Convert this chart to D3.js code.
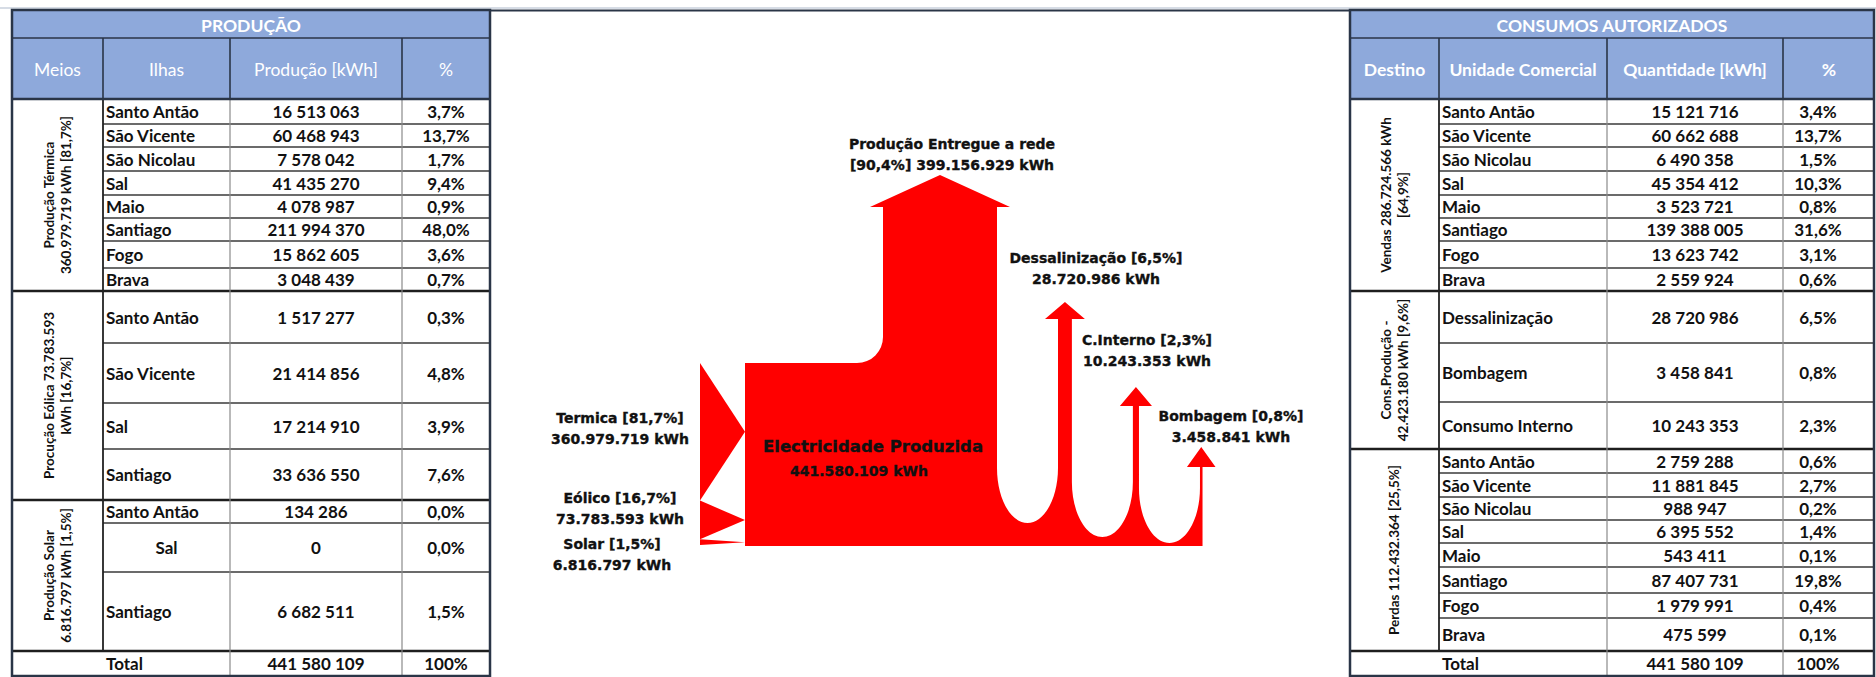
<!DOCTYPE html>
<html>
<head>
<meta charset="utf-8">
<script src="https://cdn.jsdelivr.net/npm/d3@7"></script>
<style>
  body { margin: 0; background: #fff; }
  svg { display: block; }
  .cell { font-family: Lato, "Open Sans", sans-serif; font-weight: 700; font-size: 17px; fill: #111; }
  .head { font-family: Lato, "Open Sans", sans-serif; font-size: 17.5px; fill: #fff; }
  .grp { font-family: Lato, "Open Sans", sans-serif; font-weight: 700; font-size: 13.5px; fill: #111; }
  .flow { font-family: "DejaVu Sans", Verdana, sans-serif; font-weight: 700; font-size: 14px; fill: #111;
          stroke: #111; stroke-width: 0.35px; }
</style>
</head>
<body>
<svg id="chart" width="1876" height="677"></svg>
<script>
// ---------- data ----------
var total = 441580109;

// produção
var termicaIlhas = ["Santo Antão", "São Vicente", "São Nicolau", "Sal", "Maio", "Santiago", "Fogo", "Brava"];
var termicaKWh = [16513063, 60468943, 7578042, 41435270, 4078987, 211994370, 15862605, 3048439];
var eolicaIlhas = ["Santo Antão", "São Vicente", "Sal", "Santiago"];
var eolicaKWh = [1517277, 21414856, 17214910, 33636550];
var solarIlhas = ["Santo Antão", "Sal", "Santiago"];
var solarKWh = [134286, 0, 6682511];
var meiosLabels = [
  ["Produção Térmica", "360.979.719 kWh [81,7%]"],
  ["Procução Eólica  73.783.593", "kWh [16,7%]"],
  ["Produção Solar", "6.816.797 kWh [1,5%]"]
];

// consumos autorizados
var vendasUC = ["Santo Antão", "São Vicente", "São Nicolau", "Sal", "Maio", "Santiago", "Fogo", "Brava"];
var vendasKWh = [15121716, 60662688, 6490358, 45354412, 3523721, 139388005, 13623742, 2559924];
var consProdUC = ["Dessalinização", "Bombagem", "Consumo Interno"];
var consProdKWh = [28720986, 3458841, 10243353];
var perdasUC = ["Santo Antão", "São Vicente", "São Nicolau", "Sal", "Maio", "Santiago", "Fogo", "Brava"];
var perdasKWh = [2759288, 11881845, 988947, 6395552, 543411, 87407731, 1979991, 475599];
var destinoLabels = [
  ["Vendas 286.724.566 kWh", "[64,9%]"],
  ["Cons.Produção -", "42.423.180 kWh [9,6%]"],
  ["Perdas 112.432.364 [25,5%]"]
];

// fluxo
var inputNames = ["Termica", "Eólico", "Solar"];
var inputKWh = [360979719, 73783593, 6816797];
var outputNames = ["Produção Entregue a rede", "Dessalinização", "C.Interno", "Bombagem"];
var outputKWh = [399156929, 28720986, 10243353, 3458841];

// ---------- formats ----------
var locSp = d3.formatLocale({decimal: ",", thousands: " ", grouping: [3], currency: ["", ""]});
var locDot = d3.formatLocale({decimal: ",", thousands: ".", grouping: [3], currency: ["", ""]});
var numSp = locSp.format(",d"), pct = locSp.format(".1%"), numDot = locDot.format(",d");

var svg = d3.select("#chart");
var headBlue = "#8EA9DB", dark = "#2a3547";

// light rule at the very top + frame of middle panel
svg.append("line").attr("x1", 0).attr("x2", 1876).attr("y1", 8).attr("y2", 8)
  .attr("stroke", "#c9d1dc").attr("stroke-width", 1.5);
svg.append("line").attr("x1", 490).attr("x2", 1350).attr("y1", 10.5).attr("y2", 10.5)
  .attr("stroke", dark).attr("stroke-width", 2);

// ---------- tables ----------
function drawTable(cfg) {
  var g = svg.append("g");
  var c = cfg.cols, e = cfg.edges;
  var yT = 10, yH = 38, yB = 99, yEnd = 676;
  var last = e[e.length - 1];

  g.append("rect").attr("x", c[0]).attr("y", yT).attr("width", c[4] - c[0]).attr("height", yB - yT)
    .attr("fill", headBlue);
  g.append("text").attr("class", "head").attr("x", (c[0] + c[4]) / 2).attr("y", 32)
    .attr("text-anchor", "middle").style("font-weight", 700).text(cfg.title);
  cfg.headers.forEach(function(h, i) {
    var x = i == 3 ? cfg.pctHeadX : (c[i] + c[i + 1]) / 2;
    g.append("text").attr("class", "head").attr("x", x).attr("y", 76)
      .attr("text-anchor", "middle").style("font-weight", cfg.headBold ? 700 : 400).text(h);
  });

  var r = 0;
  cfg.groups.forEach(function(grp, gi) {
    var y0 = e[r], y1 = e[r + grp.names.length];
    var t = g.append("text").attr("class", "grp").attr("text-anchor", "middle")
      .attr("transform", "translate(" + ((c[0] + c[1]) / 2) + "," + ((y0 + y1) / 2) + ") rotate(-90)");
    grp.label.forEach(function(line, li) {
      t.append("tspan").attr("x", 0).attr("y", (li - (grp.label.length - 1) / 2) * 17 + 4.5).text(line);
    });
    grp.names.forEach(function(name, k) {
      var ya = e[r + k], yb = e[r + k + 1], ym = (ya + yb) / 2 + 6.5;
      var centred = cfg.centred && cfg.centred[gi + "-" + k];
      g.append("text").attr("class", "cell").attr("x", centred ? (c[1] + c[2]) / 2 : c[1] + 3)
        .attr("y", ym).attr("text-anchor", centred ? "middle" : "start").text(name);
      g.append("text").attr("class", "cell").attr("x", (c[2] + c[3]) / 2).attr("y", ym)
        .attr("text-anchor", "middle").text(numSp(grp.values[k]));
      g.append("text").attr("class", "cell").attr("x", cfg.pctX).attr("y", ym)
        .attr("text-anchor", "middle").text(pct(grp.values[k] / total));
      if (k > 0) {
        g.append("line").attr("x1", c[1]).attr("x2", c[4]).attr("y1", ya).attr("y2", ya)
          .attr("stroke", "#3a3a3a").attr("stroke-width", 1.3);
      }
    });
    r += grp.names.length;
    g.append("line").attr("x1", c[0]).attr("x2", c[4]).attr("y1", e[r]).attr("y2", e[r])
      .attr("stroke", "#1e1e1e").attr("stroke-width", 2.5);
  });

  // total row
  var ym = (last + yEnd) / 2 + 6.5;
  g.append("text").attr("class", "cell").attr("x", c[1] + 3).attr("y", ym).text("Total");
  g.append("text").attr("class", "cell").attr("x", (c[2] + c[3]) / 2).attr("y", ym)
    .attr("text-anchor", "middle").text(numSp(total));
  g.append("text").attr("class", "cell").attr("x", cfg.pctX).attr("y", ym)
    .attr("text-anchor", "middle").text("100%");

  // verticals
  g.append("line").attr("x1", c[1]).attr("x2", c[1]).attr("y1", yB).attr("y2", last)
    .attr("stroke", "#222").attr("stroke-width", 1.8);
  [c[2], c[3]].forEach(function(x) {
    g.append("line").attr("x1", x).attr("x2", x).attr("y1", yB).attr("y2", yEnd)
      .attr("stroke", "#8a8a8a").attr("stroke-width", 1.2);
  });
  [c[1], c[2], c[3]].forEach(function(x) {
    g.append("line").attr("x1", x).attr("x2", x).attr("y1", yH).attr("y2", yB)
      .attr("stroke", dark).attr("stroke-width", 1.6);
  });
  g.append("line").attr("x1", c[0]).attr("x2", c[4]).attr("y1", yH).attr("y2", yH)
    .attr("stroke", dark).attr("stroke-width", 1.6);
  g.append("line").attr("x1", c[0]).attr("x2", c[4]).attr("y1", yB).attr("y2", yB)
    .attr("stroke", dark).attr("stroke-width", 2.5);
  g.append("rect").attr("x", c[0]).attr("y", yT).attr("width", c[4] - c[0]).attr("height", yEnd - yT)
    .attr("fill", "none").attr("stroke", dark).attr("stroke-width", 2.5);
}

drawTable({
  cols: [12, 103, 230, 402, 490],
  edges: [99, 124, 147, 171, 195, 218, 241, 268, 291, 343, 403, 449, 500, 523, 572, 651],
  title: "PRODUÇÃO",
  headers: ["Meios", "Ilhas", "Produção [kWh]", "%"],
  headBold: false,
  pctX: 446, pctHeadX: 446,
  centred: {"2-1": true},
  groups: [
    {label: meiosLabels[0], names: termicaIlhas, values: termicaKWh},
    {label: meiosLabels[1], names: eolicaIlhas, values: eolicaKWh},
    {label: meiosLabels[2], names: solarIlhas, values: solarKWh}
  ]
});

drawTable({
  cols: [1350, 1439, 1607, 1783, 1874],
  edges: [99, 124, 147, 171, 195, 218, 241, 268, 291, 343, 402, 449, 473, 497, 520, 543, 567, 593, 618, 651],
  title: "CONSUMOS AUTORIZADOS",
  headers: ["Destino", "Unidade Comercial", "Quantidade [kWh]", "%"],
  headBold: true,
  pctX: 1818, pctHeadX: 1829,
  groups: [
    {label: destinoLabels[0], names: vendasUC, values: vendasKWh},
    {label: destinoLabels[1], names: consProdUC, values: consProdKWh},
    {label: destinoLabels[2], names: perdasUC, values: perdasKWh}
  ]
});

// ---------- flow diagram ----------
var red = "#ff0000";
var fx0 = 700, fx1 = 745, fyTop = 363, fyBot = 545;

// inputs: compressed stack (pow 0.8) mapped on the left edge
var inPow = d3.scalePow().exponent(0.8).domain([0, total]).range([0, 1]);
var inCum = [0];
inputKWh.forEach(function(v, i) { inCum.push(inCum[i] + inPow(v)); });
var yIn = d3.scaleLinear().domain([0, inCum[inCum.length - 1]]).range([fyTop, fyBot]);

var fg = svg.append("g");
fg.selectAll(".inp").data(inputKWh).enter().append("path")
  .attr("fill", red)
  .attr("d", function(d, i) {
    var a = yIn(inCum[i]), b = yIn(inCum[i + 1]);
    return "M" + fx0 + "," + a + "L" + fx1 + "," + ((a + b) / 2) + "L" + fx0 + "," + b + "Z";
  });

// outputs: shaft widths through a pow scale
var wOut = d3.scalePow().exponent(0.8).domain([0, outputKWh[0]]).range([0, 114]);
var apexY = [175, 302, 387, 447], headH = [32, 17, 19, 20], uBot = [523, 537, 543];
var over = 13, gap = 61, ry = 55, corner = 26, kap = 0.5523;
var xs = [883];
outputKWh.forEach(function(v, i) { if (i > 0) xs.push(xs[i - 1] + wOut(outputKWh[i - 1]) + gap); });

var p = d3.path();
p.moveTo(fx1, fyBot);
p.lineTo(fx1, fyTop);
p.arcTo(xs[0], fyTop, xs[0], apexY[0], corner);
outputKWh.forEach(function(v, i) {
  var w = wOut(v), xl = xs[i], xr = xl + w, yh = apexY[i] + headH[i];
  p.lineTo(xl, yh);
  p.lineTo(xl - over, yh);
  p.lineTo(xl + w / 2, apexY[i]);
  p.lineTo(xr + over, yh);
  p.lineTo(xr, yh);
  if (i < outputKWh.length - 1) {
    var xn = xs[i + 1], rx = (xn - xr) / 2, mid = xr + rx, y0 = uBot[i] - ry;
    p.lineTo(xr, y0);
    p.bezierCurveTo(xr, y0 + kap * ry, mid - kap * rx, uBot[i], mid, uBot[i]);
    p.bezierCurveTo(mid + kap * rx, uBot[i], xn, y0 + kap * ry, xn, y0);
  } else {
    p.lineTo(xr, fyBot + 1);
  }
});
p.lineTo(fx1, fyBot + 1);
p.closePath();
fg.append("path").attr("d", p.toString()).attr("fill", red);

// labels
function twoLines(x, y, anchor, l1, l2, size) {
  var t = fg.append("text").attr("class", "flow").attr("text-anchor", anchor);
  if (size) t.style("font-size", size + "px");
  t.append("tspan").attr("x", x).attr("y", y).text(l1);
  t.append("tspan").attr("x", x).attr("y", y + 21).style("font-size", "14px").text(l2);
}
var inLabelX = [620, 620, 612], inLabelY = [423, 503, 549];
inputKWh.forEach(function(v, i) {
  twoLines(inLabelX[i], inLabelY[i], "middle",
    inputNames[i] + " [" + pct(v / total) + "]", numDot(v) + " kWh");
});
var outLabelX = [952, 1096, 1147, 1231], outLabelY = [150, 263, 345, 421];
outputKWh.forEach(function(v, i) {
  if (i == 0) {
    twoLines(outLabelX[i], outLabelY[i] - 1, "middle", outputNames[i],
      "[" + pct(v / total) + "] " + numDot(v) + " kWh");
  } else {
    twoLines(outLabelX[i], outLabelY[i], "middle",
      outputNames[i] + " [" + pct(v / total) + "]", numDot(v) + " kWh");
  }
});
var tc = fg.append("text").attr("class", "flow");
tc.append("tspan").attr("x", 763).attr("y", 452).style("font-size", "16.5px").text("Electricidade Produzida");
tc.append("tspan").attr("x", 790).attr("y", 476).text(numDot(d3.sum(inputKWh)) + " kWh");
</script>
</body>
</html>
